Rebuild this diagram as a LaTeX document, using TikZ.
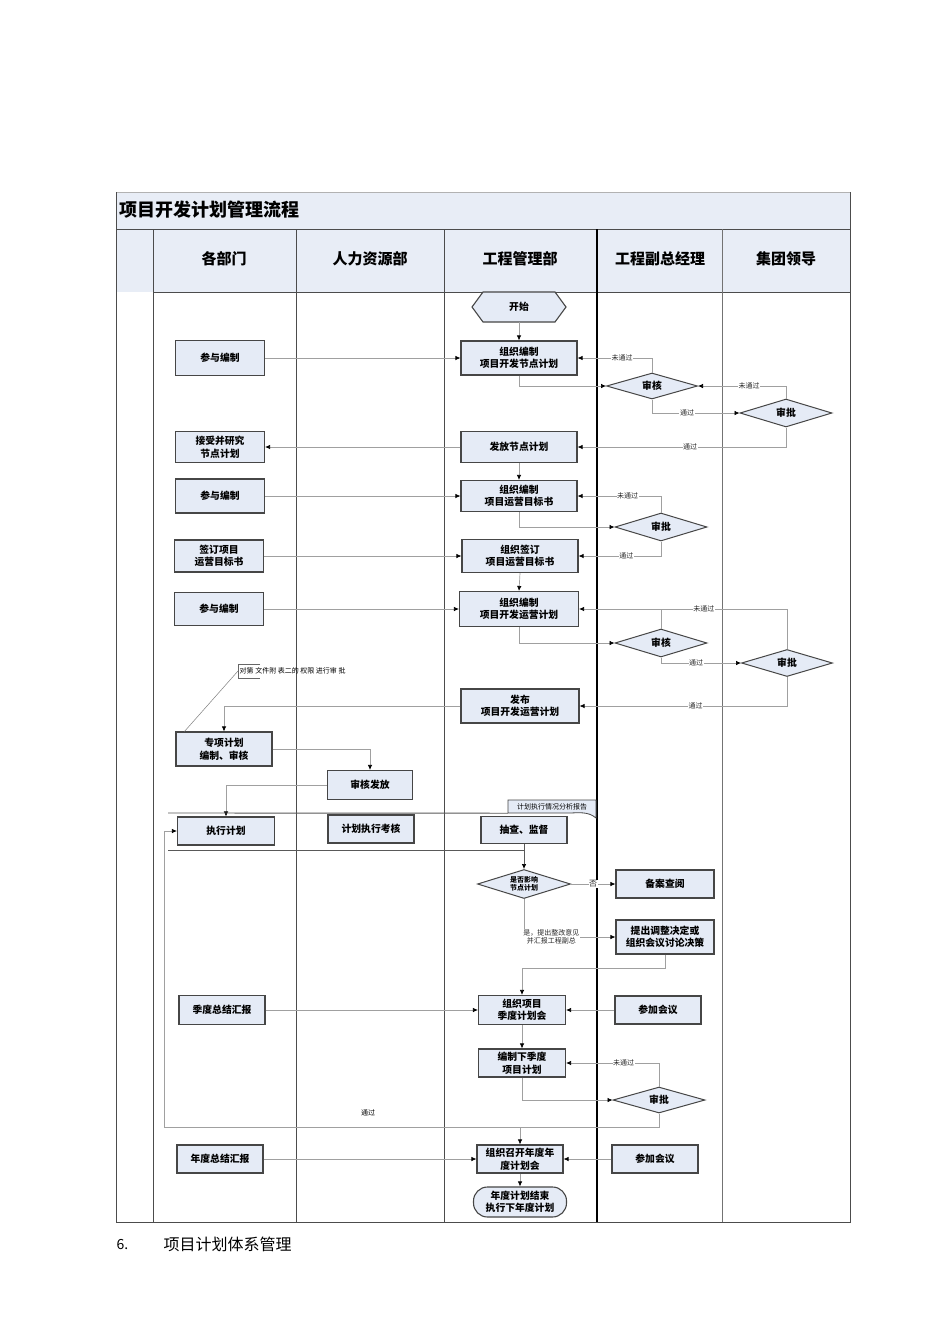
\documentclass[tikz,border=0pt]{standalone}
\usepackage{fontspec}
\setmainfont{Noto Sans CJK SC}
\usetikzlibrary{arrows.meta,shapes.geometric,calc}
\definecolor{boxfill}{RGB}{229,235,246}
\definecolor{hdrfill}{RGB}{232,237,246}
\definecolor{boxdraw}{RGB}{70,70,70}
\definecolor{connc}{RGB}{160,160,160}
\begin{document}
\begin{tikzpicture}[x=1pt,y=-1pt,
 box/.style={draw=boxdraw, fill=boxfill, line width=1.1pt, align=center, inner sep=0pt, font=\bfseries\fontsize{9.8}{12.5}\selectfont},
 dia/.style={diamond, aspect=3.5, draw=boxdraw, fill=boxfill, line width=1pt, inner sep=0pt, align=center, font=\bfseries\fontsize{9.8}{11}\selectfont},
 conn/.style={draw=connc, line width=0.7pt, -{Latex[length=5pt,width=4.5pt,color=black]}},
 plainln/.style={draw=connc, line width=0.7pt},
 lbl/.style={font=\fontsize{7}{7.5}\selectfont, fill=white, inner sep=0.6pt, text=black!85},
 lane/.style={draw=black!70, line width=0.9pt},
 grp/.style={draw=black!65, line width=0.9pt},
 hdr/.style={font=\bfseries\fontsize{15}{18}\selectfont},
]
\useasboundingbox (0,0) rectangle (950,1344);
\fill[white] (0,0) rectangle (950,1344);
% title and header rows
\filldraw[fill=hdrfill, draw=black!30, line width=0.8pt] (116,192) rectangle (850,229);
\fill[hdrfill] (116,229) rectangle (850,292);
\node[anchor=west, font=\bfseries\fontsize{18}{20}\selectfont] (title) at (116,210) {项目开发计划管理流程};
% frame and lanes
\draw[lane] (116,229) -- (850,229);
\draw[lane] (153,292) -- (850,292);
\draw[lane] (116,192) -- (116,1222) -- (850,1222) -- (850,192);
\draw[lane] (153,229) -- (153,1222);
\draw[lane] (296,229) -- (296,1222);
\draw[lane] (444,229) -- (444,1222);
\draw[lane, draw=black, line width=1.1pt] (597,229) -- (597,1222);
\draw[lane, draw=black!55] (722,229) -- (722,1222);
\node[hdr] (hA) at (224,259) {各部门};
\node[hdr] (hB) at (370,259) {人力资源部};
\node[hdr] (hC) at (520,259) {工程管理部};
\node[hdr] (hD) at (660,259) {工程副总经理};
\node[hdr] (hE) at (786,259) {集团领导};

% start hexagon
\filldraw[fill=boxfill, draw=boxdraw, line width=1.1pt] (472,307) -- (483,292) -- (555,292) -- (566,307) -- (555,322) -- (483,322) -- cycle;
\node[font=\bfseries\fontsize{9.8}{11}\selectfont, minimum width=94pt, minimum height=30pt, inner sep=0pt] (start) at (519,307) {开始};

% nodes
\node[box, minimum width=116pt, minimum height=34pt] (n1) at (519,358) {组织编制\\项目开发节点计划};
\node[box, minimum width=89pt, minimum height=35pt] (a1) at (220,358) {参与编制};
\node[dia, minimum width=91pt, minimum height=26pt] (r1) at (652,386) {审核};
\node[dia, minimum width=92pt, minimum height=28pt] (p1) at (786,413) {审批};
\node[box, minimum width=116pt, minimum height=31pt] (n2) at (519,447) {发放节点计划};
\node[box, minimum width=89pt, minimum height=31pt] (a2) at (220,447) {接受并研究\\节点计划};
\node[box, minimum width=116pt, minimum height=31pt] (n3) at (519,496) {组织编制\\项目运营目标书};
\node[box, minimum width=89pt, minimum height=34pt] (a3) at (220,496) {参与编制};
\node[dia, minimum width=92pt, minimum height=28pt] (p2) at (661,527) {审批};
\node[box, minimum width=116pt, minimum height=33pt] (n4) at (520,556) {组织签订\\项目运营目标书};
\node[box, minimum width=89pt, minimum height=32pt] (a4) at (219,556) {签订项目\\运营目标书};
\node[box, minimum width=119pt, minimum height=35pt] (n5) at (519,609) {组织编制\\项目开发运营计划};
\node[box, minimum width=89pt, minimum height=33pt] (a5) at (219,609) {参与编制};
\node[dia, minimum width=92pt, minimum height=28pt] (r2) at (661,643) {审核};
\node[dia, minimum width=91pt, minimum height=27pt] (p3) at (787,663) {审批};
\node[box, minimum width=118pt, minimum height=34pt] (n6) at (520,706) {发布\\项目开发运营计划};
\node[box, minimum width=96pt, minimum height=34pt] (a6) at (224,749) {专项计划\\编制、审核};
\node[box, minimum width=85pt, minimum height=29pt] (h1) at (370,785) {审核发放};
\node[box, minimum width=97pt, minimum height=28pt] (a7) at (226,831) {执行计划};
\node[box, minimum width=86pt, minimum height=28pt] (h2) at (371,829) {计划执行考核};
\node[box, minimum width=86pt, minimum height=27pt] (n7) at (524,830) {抽查、监督};
\node[dia, minimum width=93pt, minimum height=29pt, font=\bfseries\fontsize{7}{8.5}\selectfont] (q1) at (524,884) {是否影响\\节点计划};
\node[box, minimum width=98pt, minimum height=28pt] (v1) at (665,884) {备案查阅};
\node[box, minimum width=98pt, minimum height=34pt] (v2) at (665,937) {提出调整决定或\\组织会议讨论决策};
\node[box, minimum width=87pt, minimum height=29pt] (n8) at (522,1010) {组织项目\\季度计划会};
\node[box, minimum width=86pt, minimum height=29pt] (a8) at (222,1010) {季度总结汇报};
\node[box, minimum width=86pt, minimum height=28pt] (v3) at (658,1010) {参加会议};
\node[box, minimum width=87pt, minimum height=28pt] (n9) at (522,1063) {编制下季度\\项目计划};
\node[dia, minimum width=92pt, minimum height=26pt] (p4) at (659,1100) {审批};
\node[box, minimum width=86pt, minimum height=28pt] (n10) at (520,1159) {组织召开年度年\\度计划会};
\node[box, minimum width=86pt, minimum height=28pt] (a9) at (220,1159) {年度总结汇报};
\node[box, minimum width=86pt, minimum height=28pt] (v4) at (655,1159) {参加会议};
\node[box, rounded corners=14pt, minimum width=93pt, minimum height=30pt] (fin) at (520,1202) {年度计划结束\\执行下年度计划};

% document shape
\filldraw[fill=boxfill, draw=boxdraw, line width=0.8pt] (508,813) -- (508,800) -- (596,800) -- (596,818) .. controls (588,811) and (578,813) .. (568,813) -- cycle;
\node[font=\fontsize{7}{7.5}\selectfont, inner sep=0pt, minimum width=88pt, minimum height=13pt] (doc) at (552,806.5) {计划执行情况分析报告};

% annotation
\node[anchor=west, font=\fontsize{7}{7.5}\selectfont, inner sep=1.5pt, minimum height=14pt] (ann) at (238,671) {对第 文件附 表二的 权限 进行审 批};
\draw[draw=black!60, line width=0.6pt] ([xshift=22pt]ann.north west) -- (ann.north west) -- (ann.south west) -- ([xshift=22pt]ann.south west);
\draw[draw=black!50, line width=0.5pt] (ann.west) -- ([xshift=9pt]a6.north west);

% connectors
\draw[conn] (start.south) -- (n1.north);
\draw[conn] (a1.east) -- (n1.west);
\draw[conn] (n1.south) |- (r1.west);
\draw[conn] (r1.north) |- node[lbl, pos=0.70]{未通过} (n1.east);
\draw[conn] (r1.south) |- node[lbl, pos=0.70]{通过} (p1.west);
\draw[conn] (p1.north) |- node[lbl, pos=0.71]{未通过} (r1.east);
\draw[conn] (p1.south) |- node[lbl, pos=0.73]{通过} (n2.east);
\draw[conn] (n2.west) -- (a2.east);
\draw[conn] (n2.south) -- (n3.north);
\draw[conn] (a3.east) -- (n3.west);
\draw[conn] (n3.south) |- (p2.west);
\draw[conn] (p2.north) |- node[lbl, pos=0.70]{未通过} (n3.east);
\draw[conn] (p2.south) |- node[lbl, pos=0.71]{通过} (n4.east);
\draw[conn] (a4.east) -- (n4.west);
\draw[conn] (n4.south) -- (n5.north);
\draw[conn] (a5.east) -- (n5.west);
\draw[conn] (n5.south) |- (r2.west);
\draw[conn] (p3.north) |- node[lbl, pos=0.70]{未通过} (n5.east);
\draw[plainln] (r2.north) -- (r2.north |- n5.east);
\draw[conn] (r2.south) |- node[lbl, pos=0.72]{通过} (p3.west);
\draw[conn] (p3.south) |- node[lbl, pos=0.72]{通过} (n6.east);
\draw[conn] (n6.west) -| (a6.north);
\draw[conn] (a6.east) -| (h1.north);
\draw[conn] (h1.west) -| (a7.north);

% group lines
\coordinate (g1) at (168,813);
\coordinate (g2) at (168,850);
\draw[grp] (g1) -- (doc.south west);
\draw[grp] (g2) -- (n7.south |- g2);
\draw[conn, draw=black!65] (n7.south) -- (q1.north);
\draw[conn] (q1.east) -- node[lbl, font=\fontsize{8}{9}\selectfont]{否} (v1.west);
\draw[conn] (q1.south) |- node[lbl, pos=0.65, align=center, font=\fontsize{7}{8.5}\selectfont]{是，提出整改意见\\并汇报工程副总} (v2.west);
\coordinate (k1) at (522,968);
\draw[conn] (v2.south) |- (k1) -- (n8.north);
\draw[conn] (a8.east) -- (n8.west);
\draw[conn] (v3.west) -- (n8.east);
\draw[conn] (n8.south) -- (n9.north);
\draw[conn] (p4.north) |- node[lbl, pos=0.69]{未通过} (n9.east);
\draw[conn] (n9.south) |- (p4.west);
\coordinate (lp) at (164,1127);
\draw[conn] (p4.south) |- (lp) |- (a7.west);
\node[font=\fontsize{7}{7.5}\selectfont] (lpl) at (368,1113) {通过};
\draw[conn] (n10.north |- lp) -- (n10.north);
\draw[conn] (a9.east) -- (n10.west);
\draw[conn] (v4.west) -- (n10.east);
\draw[conn] (n10.south) -- (fin.north);

% section heading
\node[anchor=west, font=\fontsize{14}{16}\selectfont] (secnum) at (113,1244) {6.};
\node[anchor=west, font=\fontsize{16}{18}\selectfont] (sectxt) at (160,1244) {项目计划体系管理};
\end{tikzpicture}
\end{document}
